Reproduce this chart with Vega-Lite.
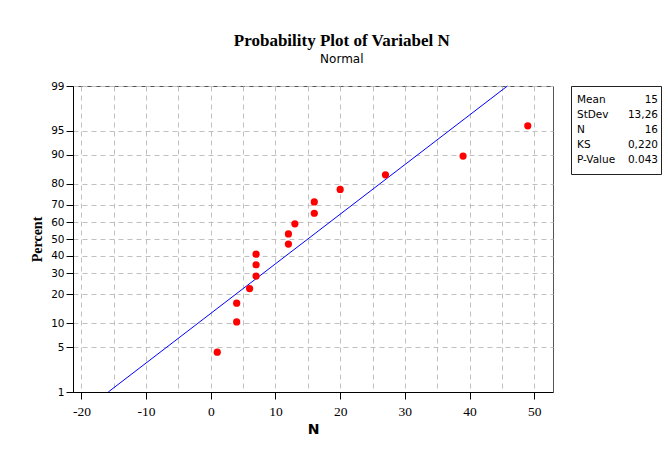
{
  "$schema": "https://vega.github.io/schema/vega-lite/v6.json",
  "background": "white",
  "padding": {"left": 30, "top": 31, "right": 4, "bottom": 4},
  "title": {
    "text": "Probability Plot of Variabel N",
    "subtitle": "Normal",
    "font": "Liberation Serif",
    "fontSize": 17,
    "fontWeight": "bold",
    "color": "black",
    "subtitleFont": "DejaVu Sans",
    "subtitleFontSize": 12,
    "subtitleColor": "black",
    "subtitlePadding": 4,
    "anchor": "middle",
    "dx": -4,
    "offset": 15
  },
  "datasets": {
    "points": [
      {"N": 1, "Percent": 4.27},
      {"N": 4, "Percent": 10.37},
      {"N": 4, "Percent": 16.46},
      {"N": 6, "Percent": 22.56},
      {"N": 7, "Percent": 28.66},
      {"N": 7, "Percent": 34.76},
      {"N": 7, "Percent": 40.85},
      {"N": 12, "Percent": 46.95},
      {"N": 12, "Percent": 53.05},
      {"N": 13, "Percent": 59.15},
      {"N": 16, "Percent": 65.24},
      {"N": 16, "Percent": 71.34},
      {"N": 20, "Percent": 77.44},
      {"N": 27, "Percent": 83.54},
      {"N": 39, "Percent": 89.63},
      {"N": 49, "Percent": 95.73}
    ],
    "fit": [
      {"N": -15.85, "Percent": 1},
      {"N": 45.85, "Percent": 99}
    ],
    "stats": [
      {"stat": "Mean", "value": "15"},
      {"stat": "StDev", "value": "13,26"},
      {"stat": "N", "value": "16"},
      {"stat": "KS", "value": "0,220"},
      {"stat": "P-Value", "value": "0.043"}
    ]
  },
  "spacing": 16,
  "hconcat": [
    {
      "width": 480,
      "height": 306,
      "view": {"stroke": "#555", "strokeWidth": 1},
      "encoding": {
        "x": {
          "field": "N",
          "type": "quantitative",
          "scale": {"domain": [-21.3, 52.9], "nice": false, "zero": false},
          "axis": {
            "title": "N",
            "titleFont": "DejaVu Sans",
            "titleFontSize": 14,
            "titleFontWeight": "bold",
            "titlePadding": 5,
            "values": [-20, -15, -10, -5, 0, 5, 10, 15, 20, 25, 30, 35, 40, 45, 50],
            "labelExpr": "datum.value % 10 === 0 ? '' + datum.value : ''",
            "labelFont": "Liberation Serif",
            "labelFontSize": 13.5,
            "labelPadding": 5,
            "tickSize": 7,
            "tickOpacity": {"condition": {"test": "datum.value % 10 === 0", "value": 1}, "value": 0},
            "grid": true
          }
        },
        "y": {
          "field": "z",
          "type": "quantitative",
          "scale": {"domain": [-2.326348, 2.326348], "nice": false, "zero": false},
          "axis": {
            "title": "Percent",
            "titleFont": "Liberation Serif",
            "titleFontSize": 14,
            "titleFontWeight": "bold",
            "titlePadding": 6,
            "values": [-2.326348, -1.644854, -1.281552, -0.841621, -0.524401, -0.253347, 0, 0.253347, 0.524401, 0.841621, 1.281552, 1.644854, 2.326348],
            "labelExpr": "format(cumulativeNormal(datum.value) * 100, '.0f')",
            "labelFont": "DejaVu Sans",
            "labelFontSize": 10.5,
            "labelPadding": 2,
            "tickSize": 7,
            "grid": true
          }
        }
      },
      "layer": [
        {
          "data": {"name": "fit"},
          "transform": [{"calculate": "quantileNormal(datum.Percent / 100)", "as": "z"}],
          "mark": {"type": "line", "color": "#0000ff", "strokeWidth": 1}
        },
        {
          "data": {"name": "points"},
          "transform": [{"calculate": "quantileNormal(datum.Percent / 100)", "as": "z"}],
          "mark": {"type": "circle", "color": "#ff0000", "size": 52, "opacity": 1}
        }
      ]
    },
    {
      "width": 90,
      "height": 88,
      "view": {"stroke": "#222", "strokeWidth": 1},
      "data": {"name": "stats"},
      "encoding": {
        "y": {
          "field": "stat",
          "type": "nominal",
          "sort": null,
          "axis": null,
          "scale": {"type": "point", "padding": 0.9}
        }
      },
      "layer": [
        {
          "mark": {"type": "text", "align": "left", "baseline": "middle", "font": "DejaVu Sans", "fontSize": 10.5, "color": "black", "dx": 6},
          "encoding": {
            "x": {"datum": 0, "type": "quantitative", "scale": {"domain": [0, 1]}, "axis": null},
            "text": {"field": "stat"}
          }
        },
        {
          "mark": {"type": "text", "align": "right", "baseline": "middle", "font": "DejaVu Sans", "fontSize": 10.5, "color": "black", "dx": -3},
          "encoding": {
            "x": {"datum": 1, "type": "quantitative", "scale": {"domain": [0, 1]}, "axis": null},
            "text": {"field": "value"}
          }
        }
      ]
    }
  ],
  "config": {
    "axis": {
      "gridColor": "#c0c0c0",
      "gridDash": [5, 4],
      "gridWidth": 1,
      "domainColor": "black",
      "domainWidth": 1,
      "tickColor": "black",
      "labelColor": "black",
      "titleColor": "black"
    }
  }
}
